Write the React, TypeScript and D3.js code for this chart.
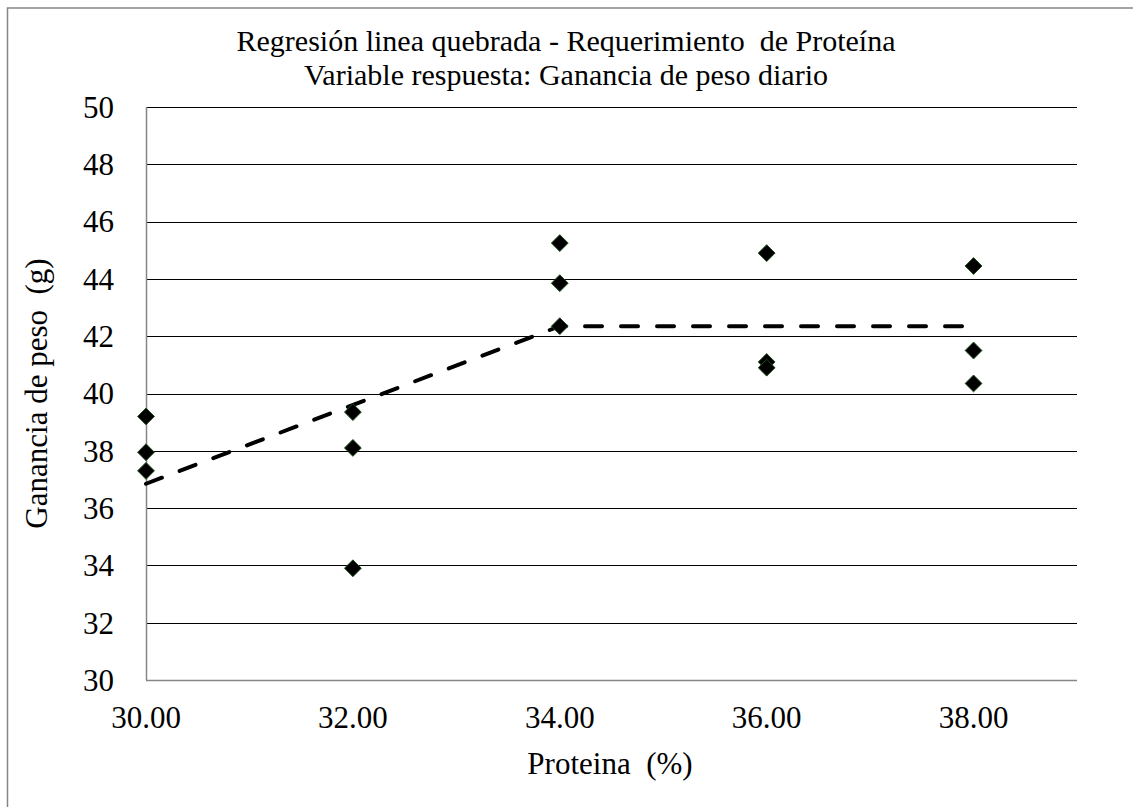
import { useEffect, useRef } from 'react'
import * as d3 from 'd3'

// Observed points (protein %, daily weight gain g)
const proteinLevels = [30, 30, 30, 32, 32, 32, 34, 34, 34, 36, 36, 36, 38, 38, 38]
const weightGain = [39.2, 37.95, 37.3, 39.35, 38.1, 33.9, 45.25, 43.85, 42.35, 44.9, 41.1, 40.9, 44.45, 41.5, 40.35]

// Broken-line fit
const fitX = [30, 34, 38]
const fitY = [36.85, 42.35, 42.35]

const xTicks = [30, 32, 34, 36, 38]
const yTicks = [30, 32, 34, 36, 38, 40, 42, 44, 46, 48, 50]

const titleLines = [
  'Regresión linea quebrada - Requerimiento  de Proteína',
  'Variable respuesta: Ganancia de peso diario',
]
const xTitle = 'Proteina  (%)'
const yTitle = 'Ganancia de peso  (g)'

const width = 1133
const height = 807
const FONT = '"Liberation Serif", "Times New Roman", serif'

export default function App() {
  const svgRef = useRef<SVGSVGElement>(null)

  useEffect(() => {
    if (!svgRef.current) return
    const svg = d3.select(svgRef.current)
    svg.selectAll('*').remove()

    const x = d3.scaleLinear().domain([30, 39]).range([146, 1077])
    const y = d3.scaleLinear().domain([30, 50]).range([680, 107])

    // outer chart border (only top/left visible)
    svg.append('rect')
      .attr('x', 7.5).attr('y', 8)
      .attr('width', width + 20).attr('height', height + 20)
      .attr('fill', 'none')
      .attr('stroke', '#868686')
      .attr('stroke-width', 1.5)

    // titles
    svg.append('g')
      .selectAll('text')
      .data(titleLines)
      .enter().append('text')
      .attr('x', 566)
      .attr('y', (d, i) => 51 + i * 34)
      .attr('text-anchor', 'middle')
      .style('font-family', FONT)
      .style('font-size', '30px')
      .style('white-space', 'pre')
      .style('fill', '#000')
      .text(d => d)

    // gridlines
    svg.append('g')
      .selectAll('line')
      .data(yTicks.filter(t => t > 30))
      .enter().append('line')
      .attr('x1', x(30)).attr('x2', x(39))
      .attr('y1', d => Math.round(y(d)) + 0.5)
      .attr('y2', d => Math.round(y(d)) + 0.5)
      .attr('stroke', '#000')
      .attr('stroke-width', 1)

    // axes lines
    svg.append('line')
      .attr('x1', x(30)).attr('x2', x(39))
      .attr('y1', Math.round(y(30)) + 0.5).attr('y2', Math.round(y(30)) + 0.5)
      .attr('stroke', '#868686').attr('stroke-width', 1.5)
    svg.append('line')
      .attr('x1', Math.round(x(30)) + 0.5).attr('x2', Math.round(x(30)) + 0.5)
      .attr('y1', y(50)).attr('y2', y(30))
      .attr('stroke', '#868686').attr('stroke-width', 1.5)

    // y tick labels
    svg.append('g')
      .selectAll('text')
      .data(yTicks)
      .enter().append('text')
      .attr('x', 114)
      .attr('y', d => y(d))
      .attr('dy', '0.35em')
      .attr('text-anchor', 'end')
      .style('font-family', FONT)
      .style('font-size', '31px')
      .style('fill', '#000')
      .text(d => d)

    // x tick labels
    svg.append('g')
      .selectAll('text')
      .data(xTicks)
      .enter().append('text')
      .attr('x', d => x(d))
      .attr('y', 728)
      .attr('text-anchor', 'middle')
      .style('font-family', FONT)
      .style('font-size', '31px')
      .style('fill', '#000')
      .text(d => d3.format('.2f')(d))

    // axis titles
    svg.append('text')
      .attr('x', 610)
      .attr('y', 774)
      .attr('text-anchor', 'middle')
      .style('font-family', FONT)
      .style('font-size', '31px')
      .style('white-space', 'pre')
      .style('fill', '#000')
      .text(xTitle)

    svg.append('text')
      .attr('transform', `translate(47,${(y(30) + y(50)) / 2}) rotate(-90)`)
      .attr('text-anchor', 'middle')
      .style('font-family', FONT)
      .style('font-size', '31px')
      .style('white-space', 'pre')
      .style('fill', '#000')
      .text(yTitle)

    // fitted broken line
    const line = d3.line<number>()
      .x((d, i) => x(fitX[i]))
      .y(d => y(d))
    svg.append('path')
      .datum(fitY)
      .attr('d', line)
      .attr('fill', 'none')
      .attr('stroke', '#000')
      .attr('stroke-width', 4)
      .attr('stroke-linecap', 'round')
      .attr('stroke-dasharray', '17 19')

    // points
    const diamond = d3.symbol().type(d3.symbolDiamond2).size(180)
    svg.append('g')
      .selectAll('path')
      .data(weightGain)
      .enter().append('path')
      .attr('d', diamond)
      .attr('transform', (d, i) => `translate(${x(proteinLevels[i])},${y(d)})`)
      .attr('fill', '#000')
      .attr('stroke', '#1c4a1c')
      .attr('stroke-width', 1)
  }, [])

  return (
    <svg
      ref={svgRef}
      width={width}
      height={height}
      style={{ position: 'absolute', left: 0, top: 0, background: '#fff' }}
    />
  )
}
